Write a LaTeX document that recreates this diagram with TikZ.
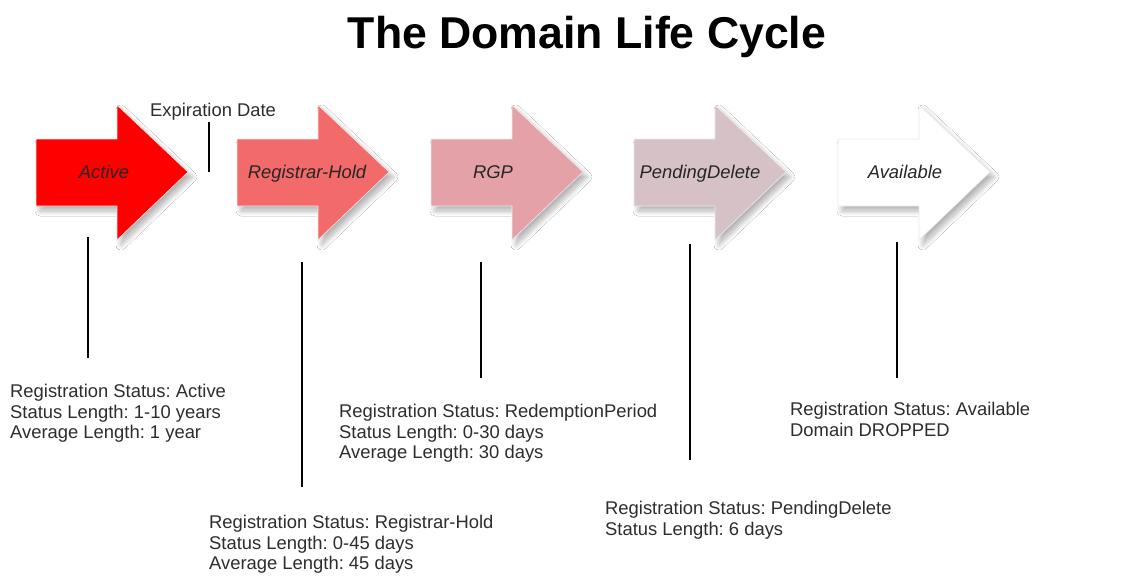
\documentclass[tikz,border=0pt]{standalone}
\usepackage{fontspec}
\setmainfont{Liberation Sans}
\usetikzlibrary{shadows.blur}
\definecolor{activered}{RGB}{255,0,0}
\definecolor{holdred}{RGB}{242,106,106}
\definecolor{rgppink}{RGB}{228,162,168}
\definecolor{pendgray}{RGB}{214,194,198}
\definecolor{availwhite}{RGB}{255,255,255}
\definecolor{inktext}{RGB}{45,45,45}
\frenchspacing

\begin{document}
\begin{tikzpicture}[
x=1pt,
y=-1pt,
phase/.style={
  blur shadow={shadow xshift=4pt, shadow yshift=-5pt, shadow blur steps=10,
    shadow blur radius=5pt, shadow opacity=30},
  draw=black!8,
  line width=0.6pt
  },
phasename/.style={
  font=\fontsize{18.4}{20}\selectfont\itshape,
  text=black!85,
  anchor=base,
  inner sep=0pt
  },
info/.style={
  font=\fontsize{18.4}{20.5}\selectfont,
  text=inktext,
  align=left,
  anchor=north west,
  inner sep=0pt
  },
heading/.style={
  font=\fontsize{44.6}{50}\selectfont\bfseries,
  anchor=base,
  inner sep=0pt
  },
stem/.style={
  draw=black,
  line width=1.4pt
  }
]
\fill[white] (0,0) rectangle (1144,587);
\useasboundingbox (0,0) rectangle (1144,587);

\node[heading] (title) at (587,48) {The Domain Life Cycle};

% the five phases
\foreach \x/\col/\lx/\name/\txt in {36/activered/104/active/Active,
    237/holdred/307/hold/Registrar-Hold,
    431/rgppink/493/rgp/RGP,
    634/pendgray/700/pending/PendingDelete,
    838/availwhite/905/avail/Available}
{
  \filldraw[phase, fill=\col] (\x,139) -- ++(81,0) -- ++(0,-34) -- (\x+152,172)
    -- (\x+81,240) -- (\x+81,206) -- (\x,206) -- cycle;
  \node[phasename] (\name) at (\lx,178) {\txt};
}

\node[info, anchor=base west] (expiry) at (150,116) {Expiration Date};

% status boxes
\node[info] (active-info) at (10,384) {Registration Status: Active\\Status Length: 1-10 years\\Average Length: 1 year};
\node[info] (hold-info) at (209,515) {Registration Status: Registrar-Hold\\Status Length: 0-45 days\\Average Length: 45 days};
\node[info] (rgp-info) at (339,404) {Registration Status: RedemptionPeriod\\Status Length: 0-30 days\\Average Length: 30 days};
\node[info] (pending-info) at (605,501) {Registration Status: PendingDelete\\Status Length: 6 days};
\node[info] (avail-info) at (790,402) {Registration Status: Available\\Domain DROPPED};

% stems
\foreach \name/\sx/\top/\bot in {expiry/209/122/172, active/88/237/358,
    hold/302/262/487, rgp/481/262/378, pending/690/244/460, avail/897/242/378}
{
  \coordinate (\name-up) at (\sx,\top);
  \coordinate (\name-dn) at (\sx,\bot);
  \draw[stem] (\name-up) -- (\name-dn);
}
\end{tikzpicture}
\end{document}
